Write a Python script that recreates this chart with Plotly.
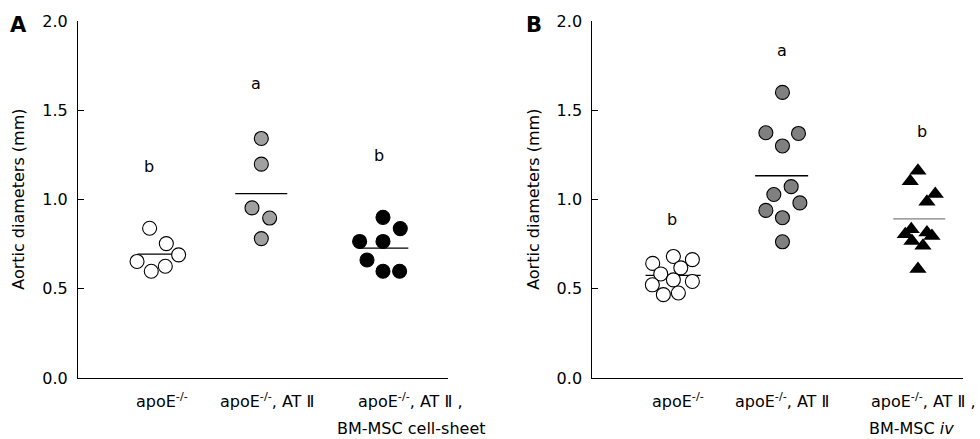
import plotly.graph_objects as go

# ---------------- data ----------------
# Panel A
a_g1_vals = [0.839, 0.753, 0.690, 0.653, 0.626, 0.598]
a_g1_x = [0.775, 0.956, 1.089, 0.639, 0.945, 0.793]
a_g2_vals = [1.342, 1.198, 0.953, 0.896, 0.781]
a_g2_x = [1.984, 1.984, 1.883, 2.074, 1.984]
a_g3_vals = [0.900, 0.837, 0.765, 0.765, 0.661, 0.598, 0.598]
a_g3_x = [3.301, 3.488, 3.048, 3.301, 3.128, 3.301, 3.481]
a_means = [0.694, 1.033, 0.728]
a_letters = ["b", "a", "b"]
a_letter_y = [1.185, 1.652, 1.246]

# Panel B
b_g1_vals = [0.642, 0.681, 0.663, 0.617, 0.583, 0.550, 0.541, 0.522, 0.467, 0.476]
b_g1_x = [0.652, 0.875, 1.080, 0.955, 0.739, 0.875, 1.080, 0.648, 0.767, 0.929]
b_g2_vals = [1.600, 1.374, 1.370, 1.300, 1.072, 1.028, 0.981, 0.939, 0.898, 0.763]
b_g2_x = [2.052, 1.873, 2.225, 2.052, 2.146, 1.959, 2.240, 1.873, 2.052, 2.052]
b_g3_vals = [1.161, 1.102, 1.031, 0.987, 0.833, 0.806, 0.815, 0.796, 0.768, 0.741, 0.611]
b_g3_x = [3.514, 3.431, 3.701, 3.611, 3.442, 3.377, 3.611, 3.665, 3.449, 3.568, 3.514]
b_means = [0.575, 1.133, 0.892]
b_letters = ["b", "a", "b"]
b_letter_y = [0.889, 1.833, 1.383]

y_ticks = [0.0, 0.5, 1.0, 1.5, 2.0]
y_title = "Aortic diameters (mm)"
a_cat_line1 = ["apoE<sup>-/-</sup>", "apoE<sup>-/-</sup>, AT Ⅱ", "apoE<sup>-/-</sup>, AT Ⅱ ,"]
a_cat_line2 = ["", "", "BM-MSC cell-sheet"]
b_cat_line1 = ["apoE<sup>-/-</sup>", "apoE<sup>-/-</sup>, AT Ⅱ", "apoE<sup>-/-</sup>, AT Ⅱ ,"]
b_cat_line2 = ["", "", "BM-MSC <i>iv</i>"]

# ---------------- layout helpers ----------------
FONT = "DejaVu Sans"
a_line_spans = [(0.643, 1.085), (1.702, 2.265), (3.044, 3.575)]
b_line_spans = [(0.575, 1.170), (1.757, 2.329), (3.247, 3.808)]
a_line_colors = ["black", "black", "black"]
b_line_colors = ["black", "black", "#808080"]
a_letter_x = [0.772, 1.929, 3.260]
b_letter_x = [0.863, 2.045, 3.563]
a_cat_x1 = [0.912, 2.049, 3.596]
a_cat_x2 = [0.912, 2.049, 3.610]
b_cat_x1 = [0.920, 2.050, 3.566]
b_cat_x2 = [0.920, 2.050, 3.444]
LINE1_Y = -0.063   # paper coords
LINE2_Y = -0.141
A_TITLE_X = -0.0675
B_TITLE_X = 0.5145

fig = go.Figure()

def add_panel(xa, ya, groups, means, spans, lcolors):
    for (x0, x1), m, c in zip(spans, means, lcolors):
        fig.add_trace(go.Scatter(x=[x0, x1], y=[m, m], mode="lines",
                                 line=dict(color=c, width=1.3),
                                 xaxis=xa, yaxis=ya, showlegend=False, hoverinfo="skip"))
    for xs, ys, sym, fill in groups:
        fig.add_trace(go.Scatter(x=xs, y=ys, mode="markers",
                                 marker=dict(symbol=sym, size=14 if sym == "circle" else 15,
                                             color=fill,
                                             line=dict(color="black", width=1.1 if sym == "circle" else 0)),
                                 xaxis=xa, yaxis=ya, showlegend=False, cliponaxis=False))

add_panel("x", "y",
          [(a_g1_x, a_g1_vals, "circle", "white"),
           (a_g2_x, a_g2_vals, "circle", "#a0a0a0"),
           (a_g3_x, a_g3_vals, "circle", "black")],
          a_means, a_line_spans, a_line_colors)
add_panel("x2", "y2",
          [(b_g1_x, b_g1_vals, "circle", "white"),
           (b_g2_x, b_g2_vals, "circle", "#808080"),
           (b_g3_x, b_g3_vals, "triangle-up", "black")],
          b_means, b_line_spans, b_line_colors)

ann = []
def panel_text(xref, yref, letters, lx, ly, l1, x1, l2, x2, title_x):
    for t, x, y in zip(letters, lx, ly):
        ann.append(dict(x=x, y=y, xref=xref, yref=yref, text=t, showarrow=False,
                        xanchor="center", yanchor="middle",
                        font=dict(family=FONT, size=16, color="black")))
    for t, x in zip(l1, x1):
        ann.append(dict(x=x, y=LINE1_Y, xref=xref, yref="paper", text=t, showarrow=False,
                        xanchor="center", yanchor="middle",
                        font=dict(family=FONT, size=16, color="black")))
    for t, x in zip(l2, x2):
        if t:
            ann.append(dict(x=x, y=LINE2_Y, xref=xref, yref="paper", text=t, showarrow=False,
                            xanchor="center", yanchor="middle",
                            font=dict(family=FONT, size=16, color="black")))
    ann.append(dict(x=title_x, y=0.5, xref="paper", yref="paper", text=y_title, textangle=-90,
                    xanchor="center", yanchor="middle",
                    showarrow=False, font=dict(family=FONT, size=16, color="black")))

panel_text("x", "y", a_letters, a_letter_x, a_letter_y, a_cat_line1, a_cat_x1,
           a_cat_line2, a_cat_x2, A_TITLE_X)
panel_text("x2", "y2", b_letters, b_letter_x, b_letter_y, b_cat_line1, b_cat_x1,
           b_cat_line2, b_cat_x2, B_TITLE_X)

ann.append(dict(x=-0.0667, y=0.989, xref="paper", yref="paper", text="<b>A</b>", showarrow=False,
                xanchor="center", yanchor="middle",
                font=dict(family=FONT, size=21, color="black")))
ann.append(dict(x=0.5147, y=0.989, xref="paper", yref="paper", text="<b>B</b>", showarrow=False,
                xanchor="center", yanchor="middle",
                font=dict(family=FONT, size=21, color="black")))

xaxis_style = dict(range=[0, 4], showline=True, linecolor="black", linewidth=1,
                   showticklabels=False, ticks="", showgrid=False, zeroline=False, fixedrange=True)
yaxis_style = dict(range=[0, 2], showline=True, linecolor="black", linewidth=1,
                   tickvals=y_ticks, ticktext=[f"{v:.1f}" for v in y_ticks],
                   ticks="inside", ticklen=6, tickcolor="black", tickwidth=1,
                   ticklabelstandoff=6,
                   tickfont=dict(family=FONT, size=16, color="black"),
                   showgrid=False, zeroline=False, fixedrange=True)

fig.update_layout(
    width=980, height=439,
    margin=dict(l=78, r=17, t=18, b=61),
    paper_bgcolor="white", plot_bgcolor="white",
    xaxis=dict(domain=[0, 0.4176], anchor="y", **xaxis_style),
    yaxis=dict(domain=[0, 1], anchor="x", **yaxis_style),
    xaxis2=dict(domain=[0.5811, 1], anchor="y2", **xaxis_style),
    yaxis2=dict(domain=[0, 1], anchor="x2", **yaxis_style),
    annotations=ann,
    showlegend=False,
)

fig.write_html("out.html", config={"displayModeBar": False},
               post_script="document.body.style.margin='0';document.body.style.padding='0';")
